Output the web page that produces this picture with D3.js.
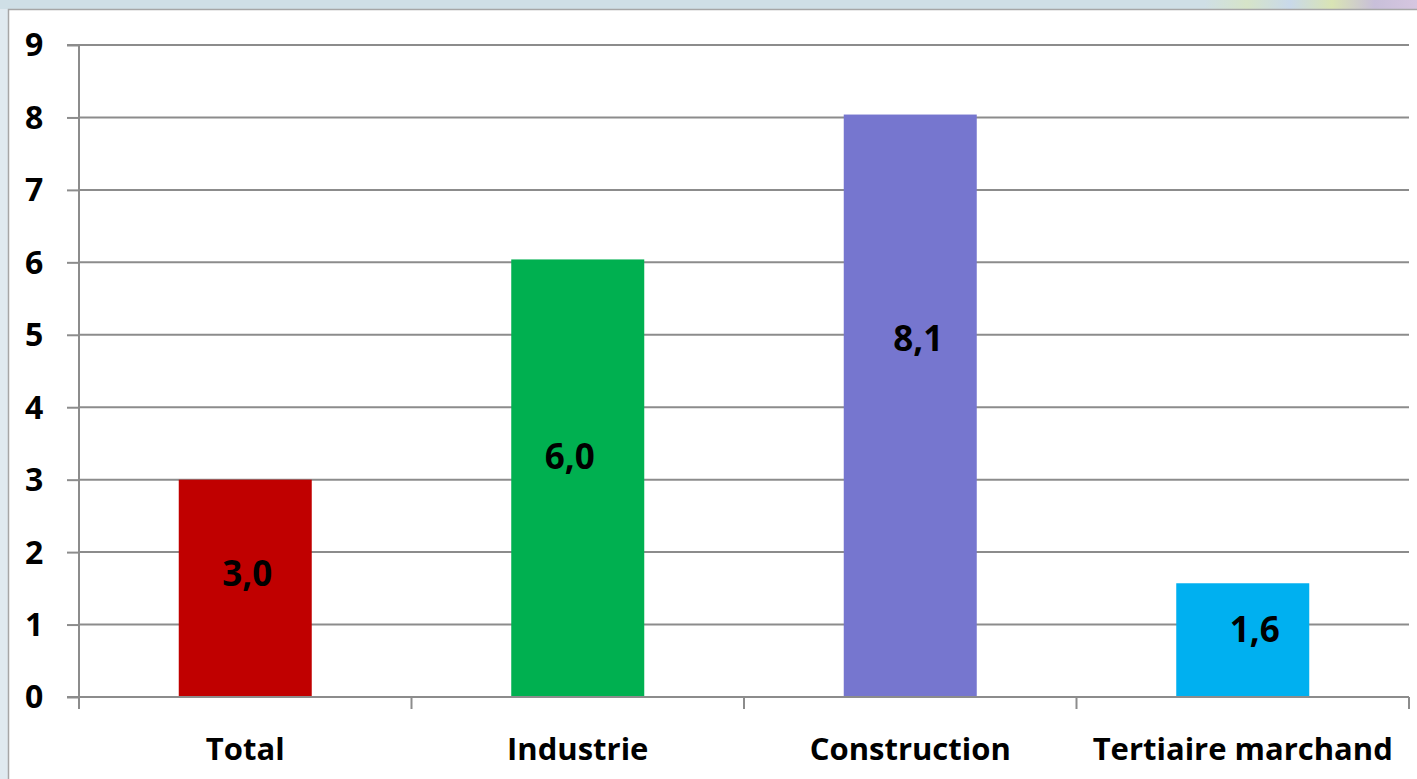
<!DOCTYPE html>
<html><head><meta charset="utf-8">
<script src="https://cdn.jsdelivr.net/npm/d3@7"></script>
<style>
html,body{margin:0;padding:0;background:#dbe7ed;overflow:hidden}
svg{display:block}
</style></head>
<body>
<svg id="c" width="1417" height="779"></svg>
<script>
const categories = ["Total", "Industrie", "Construction", "Tertiaire marchand"];
const values = [3.0, 6.04, 8.04, 1.57];
const valueLabels = ["3,0", "6,0", "8,1", "1,6"];
const colors = ["#c00000", "#00b050", "#7676cf", "#00b0f0"];
const yTicks = [0,1,2,3,4,5,6,7,8,9];

(function(){
const FONT = "'Open Sans', sans-serif";
const svg = d3.select("#c");
const bg = svg.append("defs").append("linearGradient").attr("id","topg").attr("x1","0").attr("x2","1");
bg.append("stop").attr("offset","0").attr("stop-color","#cfdfe6");
bg.append("stop").attr("offset","0.85").attr("stop-color","#cfdfe6");
bg.append("stop").attr("offset","0.88").attr("stop-color","#d6e4c8");
bg.append("stop").attr("offset","0.91").attr("stop-color","#c9d9ea");
bg.append("stop").attr("offset","0.94").attr("stop-color","#d9e4b4");
bg.append("stop").attr("offset","0.97").attr("stop-color","#c8bfd9");
bg.append("stop").attr("offset","1").attr("stop-color","#d6c6e0");
svg.append("rect").attr("x",0).attr("y",0).attr("width",1417).attr("height",779).attr("fill","#e0eaf0");
svg.append("rect").attr("x",0).attr("y",0).attr("width",1417).attr("height",9).attr("fill","url(#topg)");
svg.append("rect").attr("x",8.5).attr("y",9.5).attr("width",1420).attr("height",780)
  .attr("fill","#ffffff").attr("stroke","#a6a6a6").attr("stroke-width",1.5);

const mLeft = 79, mRight = 1409, mTop = 45, mBottom = 697;
const x = d3.scaleBand().domain(categories).range([mLeft, mRight]).paddingInner(0.6).paddingOuter(0.3);
const y = d3.scaleLinear().domain([0, 9]).range([mBottom, mTop]);

svg.append("g").selectAll("line").data(yTicks.filter(d=>d>0)).join("line")
  .attr("x1", mLeft).attr("x2", mRight).attr("y1", d=>y(d)).attr("y2", d=>y(d))
  .attr("stroke","#8c8c8c").attr("stroke-width",2);

svg.append("g").selectAll("rect").data(categories).join("rect")
  .attr("x", d=>x(d)).attr("width", x.bandwidth())
  .attr("y", (d,i)=>y(values[i])).attr("height", (d,i)=>y(0)-y(values[i]))
  .attr("fill", (d,i)=>colors[i]);

const yAxis = d3.axisLeft(y).tickValues(yTicks).tickSize(12).tickFormat(d3.format("d"));
const gy = svg.append("g").attr("transform",`translate(${mLeft},0)`).call(yAxis);
gy.select(".domain").attr("stroke","#8c8c8c").attr("stroke-width",2).attr("d",`M-12,${mTop}H0V${mBottom}`);
gy.selectAll(".tick line").attr("stroke","#8c8c8c").attr("stroke-width",2);
gy.selectAll(".tick text").attr("fill","#000").style("font-family",FONT)
  .style("font-weight","bold").style("font-size","32px").attr("text-anchor","start").attr("x",-54).attr("dy","0.34em");

const xEdge = d3.scaleLinear().domain([0, categories.length]).range([mLeft, mRight]);
const gx = svg.append("g").attr("transform",`translate(0,${mBottom})`);
gx.append("line").attr("x1",mLeft-12).attr("x2",mRight).attr("y1",0).attr("y2",0)
  .attr("stroke","#8c8c8c").attr("stroke-width",2);
gx.selectAll("line.t").data(d3.range(categories.length+1)).join("line").attr("class","t")
  .attr("x1",d=>xEdge(d)).attr("x2",d=>xEdge(d)).attr("y1",0).attr("y2",12)
  .attr("stroke","#8c8c8c").attr("stroke-width",2);
gx.selectAll("text").data(categories).join("text")
  .attr("x", d=>x(d)+x.bandwidth()/2).attr("y", 63)
  .attr("text-anchor","middle").attr("fill","#000")
  .style("font-family",FONT).style("font-weight","bold").style("font-size","31px")
  .text(d=>d);

const labelFrac = [0.57, 0.55, 0.615, 0.59];
const labelDx = [2, -8, 8, 12];
svg.append("g").selectAll("text").data(categories).join("text")
  .attr("x", (d,i)=>x(d)+x.bandwidth()/2+labelDx[i])
  .attr("y", (d,i)=>y(values[i]*labelFrac[i]))
  .attr("dy","0.36em").attr("text-anchor","middle").attr("fill","#000")
  .style("font-family",FONT).style("font-weight","bold").style("font-size","35px")
  .text((d,i)=>valueLabels[i]);
})();
</script>
</body></html>
